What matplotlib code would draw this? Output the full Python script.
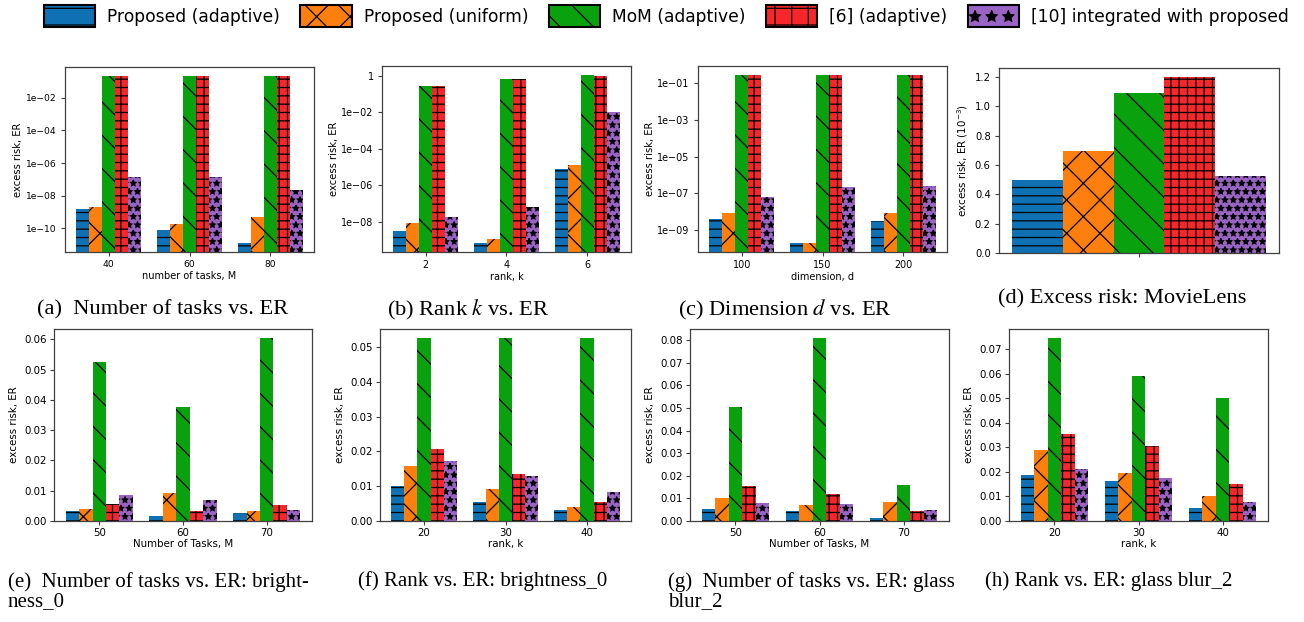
import numpy as np
import matplotlib
matplotlib.use("Agg")
import matplotlib.pyplot as plt
from matplotlib.patches import Patch
from matplotlib import ticker

# ---------------- data ----------------
series_names = ["Proposed (adaptive)", "Proposed (uniform)", "MoM (adaptive)",
                "[6] (adaptive)", "[10] integrated with proposed"]
colors = ["#0f71b3", "#ff7f0e", "#0aa10f", "#f7262a", "#9a64c4"]
hatches = ["--", "x", "\\", "++", "**"]
legend_hatches = ["-", "x", "\\", "+", "*"]

# (a) number of tasks vs ER (synthetic, log)
a_cats = ["40", "60", "80"]
a_vals = [
    [1.45e-9, 8e-11, 1.2e-11],
    [2.0e-9, 1.85e-10, 4.5e-10],
    [0.23, 0.23, 0.23],
    [0.23, 0.23, 0.23],
    [1.4e-7, 1.4e-7, 2.2e-8],
]
a_ticks = [1e-10, 1e-8, 1e-6, 1e-4, 1e-2]

# (b) rank k vs ER (synthetic, log)
b_cats = ["2", "4", "6"]
b_vals = [
    [3.2e-9, 7e-10, 7.8e-6],
    [8.9e-9, 1.2e-9, 1.35e-5],
    [0.27, 0.69, 1.05],
    [0.27, 0.67, 0.92],
    [1.95e-8, 6.9e-8, 0.01],
]
b_ticks = [1e-8, 1e-6, 1e-4, 1e-2, 1]

# (c) dimension d vs ER (synthetic, log)
c_cats = ["100", "150", "200"]
c_vals = [
    [4e-9, 1.95e-10, 3e-9],
    [8.9e-9, 1.95e-10, 8.9e-9],
    [0.3, 0.3, 0.3],
    [0.3, 0.3, 0.3],
    [6.2e-8, 2.1e-7, 2.45e-7],
]
c_ticks = [1e-9, 1e-7, 1e-5, 1e-3, 1e-1]

# (d) MovieLens (units of 1e-3)
d_vals = [0.495, 0.692, 1.089, 1.2, 0.522]

# (e) number of tasks vs ER: brightness_0
e_cats = ["50", "60", "70"]
e_vals = [
    [0.0033, 0.0016, 0.0026],
    [0.0040, 0.0092, 0.0033],
    [0.0524, 0.0376, 0.0604],
    [0.0056, 0.0033, 0.0053],
    [0.0087, 0.0069, 0.0036],
]

# (f) rank vs ER: brightness_0
f_cats = ["20", "30", "40"]
f_vals = [
    [0.0100, 0.0054, 0.0033],
    [0.0158, 0.0092, 0.0040],
    [0.0526, 0.0526, 0.0526],
    [0.0207, 0.0135, 0.0054],
    [0.0172, 0.0130, 0.0083],
]

# (g) number of tasks vs ER: glass blur_2
g_cats = ["50", "60", "70"]
g_vals = [
    [0.0052, 0.0044, 0.0012],
    [0.0102, 0.0071, 0.0084],
    [0.0504, 0.0809, 0.0159],
    [0.0155, 0.0119, 0.0044],
    [0.0080, 0.0075, 0.0049],
]

# (h) rank vs ER: glass blur_2
h_cats = ["20", "30", "40"]
h_vals = [
    [0.0188, 0.0163, 0.0053],
    [0.0289, 0.0196, 0.0103],
    [0.0746, 0.0591, 0.0501],
    [0.0355, 0.0306, 0.0151],
    [0.0212, 0.0177, 0.0077],
]

top_captions = [
    "(a)  Number of tasks vs. ER",
    "(b) Rank $k$ vs. ER",
    "(c) Dimension $d$ vs. ER",
    "(d) Excess risk: MovieLens",
]
bottom_captions = [
    "(e)  Number of tasks vs. ER: bright-\nness_0",
    "(f) Rank vs. ER: brightness_0",
    "(g)  Number of tasks vs. ER: glass\nblur_2",
    "(h) Rank vs. ER: glass blur_2",
]

# ---------------- figure ----------------
W, H = 1304, 622
fig = plt.figure(figsize=(W / 100, H / 100), dpi=100)
plt.rcParams["hatch.linewidth"] = 0.9


def px_axes(x0, y0, x1, y1):
    return fig.add_axes([x0 / W, 1 - y1 / H, (x1 - x0) / W, (y1 - y0) / H])


def style(ax, fs, pad=3.0):
    for s in ax.spines.values():
        s.set_color("#404040")
        s.set_linewidth(0.9)
    ax.tick_params(labelsize=fs, length=3, width=0.8, color="#404040", pad=pad)


BW = 0.16


def grouped(ax, cats, vals, log=False):
    x = np.arange(len(cats))
    if log:
        ax.set_yscale("log")
    for i, v in enumerate(vals):
        ax.bar(x + (i - 2) * BW, v, BW, color=colors[i], hatch=hatches[i],
               edgecolor="black", linewidth=0)
    ax.set_xticks(x)
    ax.set_xticklabels(cats)


def log_axis(ax, ticks, lims):
    ax.set_ylim(*lims)
    ax.yaxis.set_major_locator(ticker.FixedLocator(ticks))
    ax.yaxis.set_major_formatter(ticker.LogFormatter())
    ax.yaxis.set_minor_locator(ticker.NullLocator())


# top row
axa = px_axes(65, 67, 314, 252)
grouped(axa, a_cats, a_vals, log=True)
log_axis(axa, a_ticks, (3.4e-12, 0.8))
style(axa, 6.6)
axa.set_ylabel("excess risk, ER", fontsize=7.2, labelpad=2)
axa.set_xlabel("number of tasks, M", fontsize=7.0, labelpad=1)

axb = px_axes(382, 66, 631, 252)
grouped(axb, b_cats, b_vals, log=True)
log_axis(axb, b_ticks, (2.3e-10, 3.4))
style(axb, 6.9)
axb.set_ylabel("excess risk, ER", fontsize=7.2, labelpad=2)
axb.set_xlabel("rank, k", fontsize=7.0, labelpad=1)

axc = px_axes(698, 66, 947, 252)
grouped(axc, c_cats, c_vals, log=True)
log_axis(axc, c_ticks, (6.3e-11, 0.89))
style(axc, 6.9)
axc.set_ylabel("excess risk, ER", fontsize=7.2, labelpad=2)
axc.set_xlabel("dimension, d", fontsize=7.0, labelpad=1)

axd = px_axes(999, 68, 1279, 253)
for i, v in enumerate(d_vals):
    axd.bar((i - 2) * BW, v, BW, color=colors[i], hatch=hatches[i],
            edgecolor="black", linewidth=0)
axd.set_xticks([0])
axd.set_xticklabels([""])
style(axd, 7.2)
axd.set_ylabel("excess risk, ER ($10^{-3}$)", fontsize=7.4, labelpad=3)

# bottom row
bottom = [
    ((54, 329, 312, 521), e_cats, e_vals, "Number of Tasks, M"),
    ((380, 329, 631, 521), f_cats, f_vals, "rank, k"),
    ((690, 329, 949, 521), g_cats, g_vals, "Number of Tasks, M"),
    ((1009, 329, 1268, 521), h_cats, h_vals, "rank, k"),
]
for box, cats, vals, xl in bottom:
    ax = px_axes(*box)
    grouped(ax, cats, vals)
    style(ax, 7.4, pad=2.0)
    ax.set_ylabel("excess risk, ER", fontsize=7.4, labelpad=4)
    ax.set_xlabel(xl, fontsize=7.4, labelpad=1)

# legend
handles = [Patch(facecolor=colors[i], hatch=legend_hatches[i], edgecolor="black",
                 linewidth=1.5, label=series_names[i]) for i in range(5)]
fig.legend(handles=handles, loc="upper center", bbox_to_anchor=(0.511, 1.016),
           ncol=5, frameon=False, fontsize=12.3, handlelength=3.0,
           handleheight=1.55, columnspacing=1.2, handletextpad=0.7)

# captions
top_pos = [(163, 310), (468, 310), (785, 310), (1122, 299)]
for (cx, cy), txt in zip(top_pos, top_captions):
    fig.text(cx / W, 1 - cy / H, txt, ha="center", va="center",
             family="Liberation Serif", fontsize=16.2, math_fontfamily="stix")

bot_pos = [(8, 592), (358, 581), (668, 592), (985, 581)]
for (cx, cy), txt in zip(bot_pos, bottom_captions):
    fig.text(cx / W, 1 - cy / H, txt, ha="left", va="center",
             family="Liberation Serif", fontsize=15, math_fontfamily="stix",
             linespacing=1.0)

fig.savefig("out.png", dpi=100)
